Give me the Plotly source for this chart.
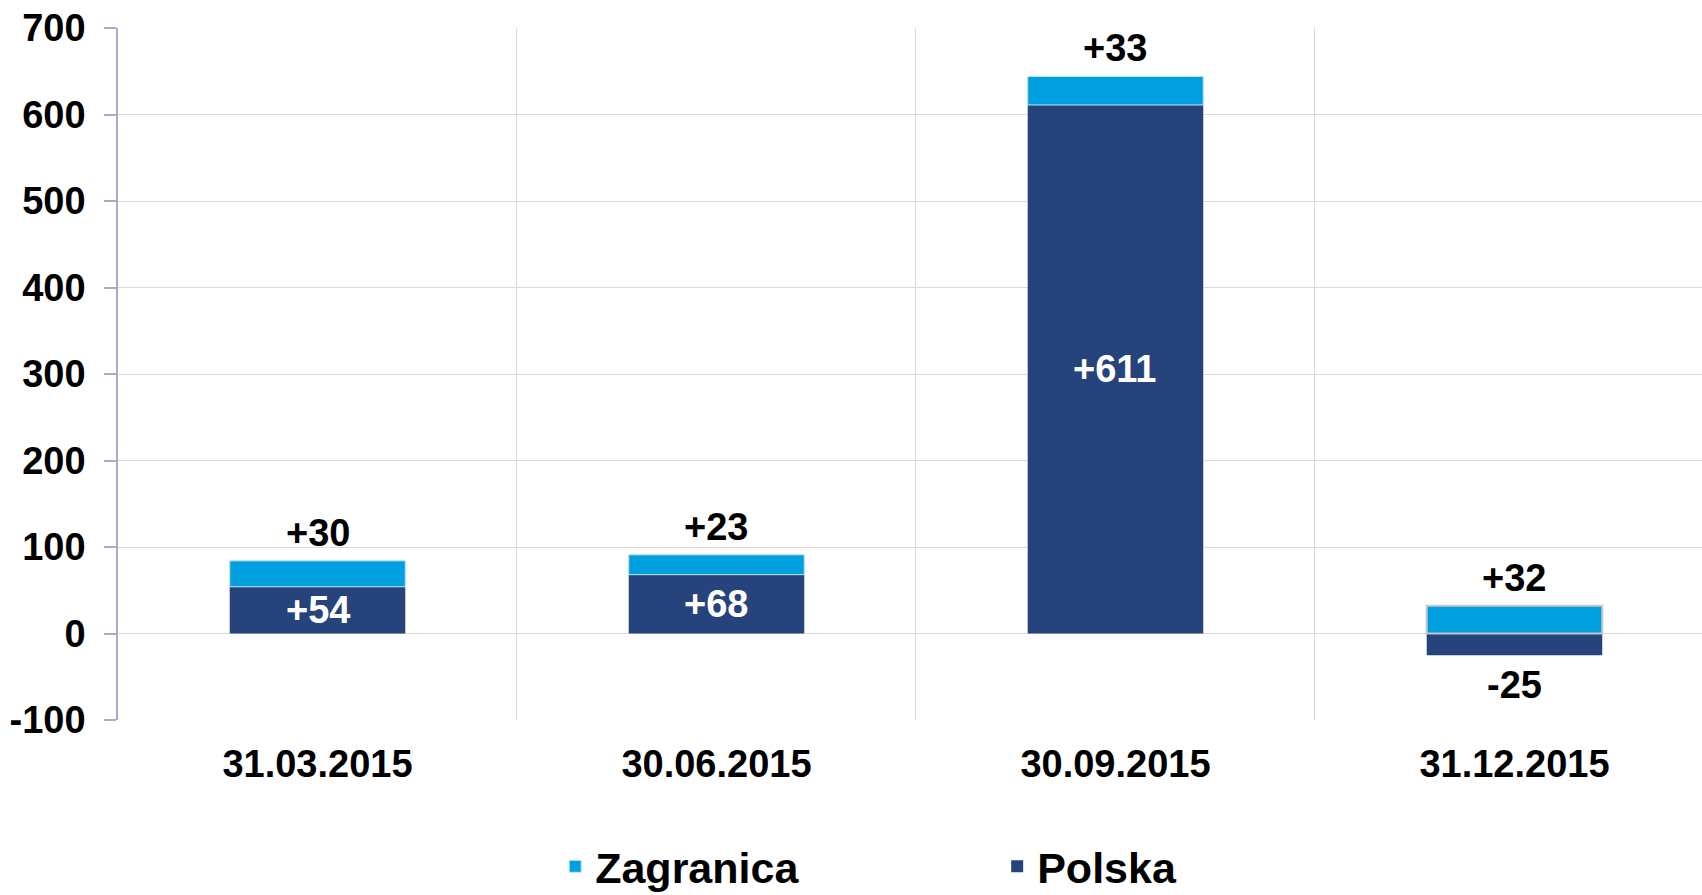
import plotly.graph_objects as go

dates = ["31.03.2015", "30.06.2015", "30.09.2015", "31.12.2015"]
polska = [54, 68, 611, -25]
zagranica = [30, 23, 33, 32]
y_ticks = [-100, 0, 100, 200, 300, 400, 500, 600, 700]

font_family = "Arial, Liberation Sans, sans-serif"
c_zagr = "#009FDF"
c_pol = "#26437B"
fs = 38

fig = go.Figure()
fig.add_trace(go.Bar(
    x=dates, y=polska, name="Polska",
    marker=dict(color=c_pol, line=dict(width=0)),
    hoverinfo="skip"
))
fig.add_trace(go.Bar(
    x=dates, y=zagranica, name="Zagranica",
    marker=dict(color=c_zagr,
                line=dict(color=["#BFE6F7", "#BFE6F7", "#BFE6F7", "#C8C8C8"],
                          width=[1, 1, 1, 2])),
    hoverinfo="skip"
))

annotations = []
for d, p, z in zip(dates, polska, zagranica):
    top = max(p, 0) + z
    annotations.append(dict(x=d, y=top, text=f"{z:+d}", showarrow=False,
                            yanchor="bottom", yshift=5,
                            font=dict(family=font_family, size=fs, color="black", weight="bold")))
    if p > 0:
        annotations.append(dict(x=d, y=p / 2, text=f"{p:+d}", showarrow=False,
                                yanchor="middle",
                                font=dict(family=font_family, size=fs, color="white", weight="bold")))
    else:
        annotations.append(dict(x=d, y=p, text=f"{p:+d}", showarrow=False,
                                yanchor="top", yshift=-7,
                                font=dict(family=font_family, size=fs, color="black", weight="bold")))

fig.update_layout(
    width=1702, height=895, autosize=False,
    margin=dict(l=118, r=0, t=28, b=175),
    barmode="relative", bargap=0.56,
    plot_bgcolor="white", paper_bgcolor="white",
    font=dict(family=font_family, size=fs, color="black", weight="bold"),
    annotations=annotations,
    xaxis=dict(
        range=[-0.5, 3.47], showgrid=True, gridcolor="#D9D9D9", gridwidth=1,
        tickson="boundaries", ticks="", ticklabelstandoff=18,
        showline=False, zeroline=False, automargin=False,
        tickfont=dict(family=font_family, size=fs, color="black", weight="bold"),
    ),
    yaxis=dict(
        range=[-100, 700], tickvals=y_ticks, ticktext=[str(v) for v in y_ticks],
        showgrid=True, gridcolor="#D9D9D9", gridwidth=1,
        showline=True, linecolor="#A8AACB", linewidth=1.5,
        ticks="outside", ticklen=12, tickcolor="#A8AACB", tickwidth=1.5,
        ticklabelstandoff=11, zeroline=False, automargin=False,
        tickfont=dict(family=font_family, size=fs, color="black", weight="bold"),
    ),
    legend=dict(
        orientation="h", x=0.276, xanchor="left",
        yref="container", y=0.032, yanchor="middle",
        traceorder="reversed", entrywidth=397, entrywidthmode="pixels",
        font=dict(family=font_family, size=43, color="black", weight="bold"),
        bgcolor="rgba(0,0,0,0)",
    ),
)

# page body has a default 8px margin; remove it so the figure fills the window
fig.write_html("out.html", config={"displayModeBar": False},
               post_script="document.body.style.margin='0';")
